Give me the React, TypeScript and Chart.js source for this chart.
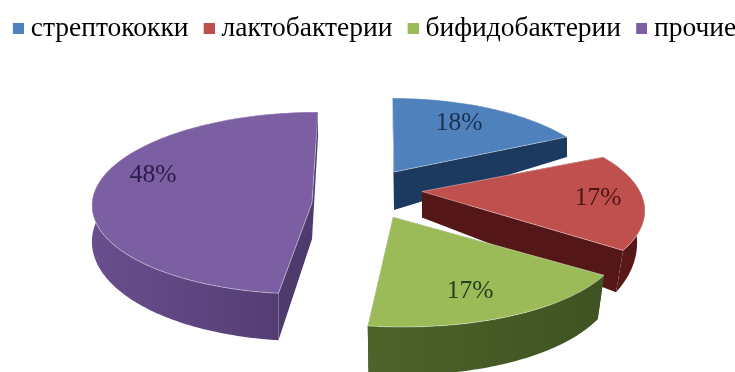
import React, { useEffect, useRef } from "react";
import { Chart, registerables } from "chart.js";

Chart.register(...registerables);

const categories = ["стрептококки", "лактобактерии", "бифидобактерии", "прочие"];
const shares = [18, 17, 17, 48];
const topColors = ["#4f81bd", "#c0504d", "#9bbb59", "#7b5fa2"];
const wallLight = ["#1f4069", "#5e1b1b", "#4d6329", "#6a4e8e"];
const wallDark = ["#1c3a60", "#541616", "#3f5222", "#4f3a6e"];
const labelColors = ["#1b3050", "#4f1414", "#24401a", "#2a1a48"];

// The canvas runs past the frame so the legend stays on one row.
const BLEED_LEFT = 8;
const CANVAS_WIDTH = 765;

// Each exploded wedge has its own projected placement on the tilted plane.
const wedges = [
  { ax: 394, ay: 172, rx: 209, ry: 89.5, k: 0.209, sh: -2, d0: 38, dv: 42, inset: 1, lx: 459, ly: 123 },
  { ax: 422, ay: 191.5, rx: 218, ry: 88, k: 0.209, sh: 0, d0: 26, dv: 27, inset: 0.965, lx: 598, ly: 198 },
  { ax: 393, ay: 217, rx: 223, ry: 87, k: 0.209, sh: -8, d0: 38, dv: 10, inset: 0.97, lx: 470, ly: 291 },
  { ax: 312, ay: 203, rx: 220, ry: 91, k: 0, sh: 6, d0: 36, dv: 11, inset: 1, lx: 153, ly: 175 },
];

type Wedge = (typeof wedges)[number];
type P = [number, number];

function topPoint(w: Wedge, r: number, t: number): P {
  const u = Math.sin(t);
  const v = Math.cos(t);
  const q = 1 + w.k * r * v;
  return [w.ax + (r * (w.rx * u + w.sh * v)) / q, w.ay - (r * w.ry * v) / q];
}

function basePoint(w: Wedge, r: number, t: number): P {
  const [x, y] = topPoint(w, r, t);
  const depth = Math.max(0, w.d0 - w.dv * r * Math.cos(t));
  return [w.ax + (x - w.ax) * w.inset, y + depth];
}

function trace(ctx: CanvasRenderingContext2D, pts: P[]) {
  ctx.beginPath();
  pts.forEach(([x, y], i) => (i ? ctx.lineTo(x, y) : ctx.moveTo(x, y)));
  ctx.closePath();
}

function arcAngles(a: number, b: number): number[] {
  const steps = Math.max(2, Math.ceil((b - a) / (Math.PI / 180)));
  const out: number[] = [];
  for (let i = 0; i <= steps; i++) out.push(a + ((b - a) * i) / steps);
  return out;
}

const pie3d = {
  id: "pie3d",
  // The flat arcs are replaced by the projected wedges below.
  beforeDatasetDraw() {
    return false;
  },
  afterDatasetsDraw(chart: Chart) {
    const ctx = chart.ctx;
    const arcs = chart.getDatasetMeta(0).data as any[];
    arcs.forEach((arc, i) => {
      const w = wedges[i];
      const a = arc.startAngle + Math.PI / 2;
      const b = arc.endAngle + Math.PI / 2;
      const ts = arcAngles(a, b);
      const rim = ts.map((t) => topPoint(w, 1, t));
      const base = ts.map((t) => basePoint(w, 1, t));
      const apexTop = topPoint(w, 0, 0);
      const apexBase = basePoint(w, 0, 0);
      ctx.save();
      ctx.translate(BLEED_LEFT, 0);

      const xs = rim.map((p) => p[0]);
      const grad = ctx.createLinearGradient(Math.min(...xs), 0, Math.max(...xs), 0);
      grad.addColorStop(0, wallLight[i]);
      grad.addColorStop(1, wallDark[i]);

      // Cut faces, then the curved outer wall.
      [0, ts.length - 1].forEach((n) => {
        trace(ctx, [apexTop, rim[n], base[n], apexBase]);
        ctx.fillStyle = wallDark[i];
        ctx.fill();
      });
      trace(ctx, [...rim, ...base.slice().reverse()]);
      ctx.fillStyle = grad;
      ctx.fill();

      // Top face with its pale edge.
      trace(ctx, [apexTop, ...rim]);
      ctx.fillStyle = topColors[i];
      ctx.fill();
      ctx.strokeStyle = "rgba(255,255,255,0.38)";
      ctx.lineWidth = 1;
      ctx.stroke();

      ctx.fillStyle = labelColors[i];
      ctx.font = '25.5px "Liberation Serif"';
      ctx.textAlign = "center";
      ctx.textBaseline = "middle";
      ctx.fillText(`${shares[i]}%`, w.lx, w.ly);
      ctx.restore();
    });
  },
};

function legendSwatch(color: string) {
  const c = document.createElement("canvas");
  c.width = 18;
  c.height = 11;
  const g = c.getContext("2d")!;
  g.fillStyle = color;
  g.fillRect(7, 0, 11, 11);
  return c;
}

export default function App() {
  const ref = useRef<HTMLCanvasElement>(null);
  useEffect(() => {
    const chart = new Chart(ref.current!, {
      type: "pie",
      data: {
        labels: categories,
        datasets: [{ data: shares, backgroundColor: topColors, borderWidth: 0 }],
      },
      options: {
        animation: false,
        responsive: false,
        layout: { padding: { top: 0, left: 0, right: 0 } },
        plugins: {
          tooltip: { enabled: false },
          legend: {
            position: "top",
            align: "center",
            labels: {
              usePointStyle: true,
              boxWidth: 4.25,
              boxHeight: 11,
              padding: 15,
              color: "#26262c",
              font: { family: '"Liberation Serif"', size: 27.5 },
              generateLabels: () =>
                categories.map((text, i) => ({
                  text,
                  index: i,
                  fillStyle: topColors[i],
                  strokeStyle: topColors[i],
                  lineWidth: 0,
                  pointStyle: legendSwatch(topColors[i]),
                })),
            },
          },
        },
      },
      plugins: [pie3d],
    } as any);
    return () => chart.destroy();
  }, []);
  return (
    <div style={{ position: "fixed", left: 0, top: 0, width: 735, height: 372, background: "#fff", overflow: "hidden" }}>
      <canvas
        ref={ref}
        width={CANVAS_WIDTH}
        height={372}
        style={{ display: "block", marginLeft: -BLEED_LEFT }}
      />
    </div>
  );
}
